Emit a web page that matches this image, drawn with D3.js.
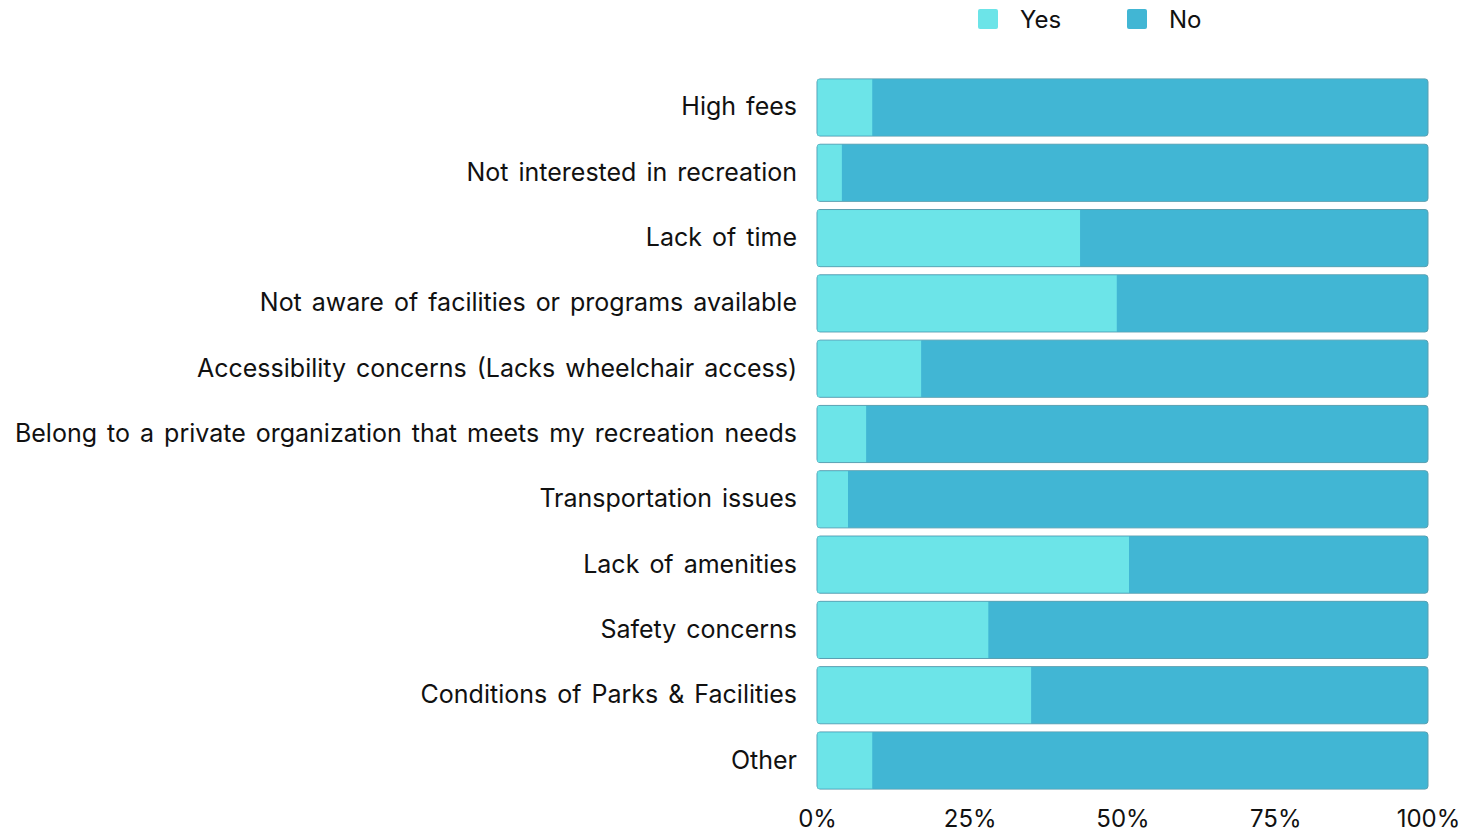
<!DOCTYPE html>
<html><head><meta charset="utf-8">
<script src="https://cdn.jsdelivr.net/npm/d3@7"></script>
<style>body{margin:0;background:#fff;} text{font-family:Inter,"DejaVu Sans",sans-serif;fill:#111;}</style>
</head><body><svg id="c" width="1479" height="832"></svg>
<script>
const categories = ["High fees","Not interested in recreation","Lack of time","Not aware of facilities or programs available","Accessibility concerns (Lacks wheelchair access)","Belong to a private organization that meets my recreation needs","Transportation issues","Lack of amenities","Safety concerns","Conditions of Parks & Facilities","Other"];
const yesValues = [9,4,43,49,17,8,5,51,28,35,9];
const noValues = yesValues.map(v => 100 - v);
const seriesNames = ["Yes","No"];
const tickValues = [0,25,50,75,100];
const colors = {Yes:"#6ce4e8", No:"#41b6d4"};

const svg = d3.select("#c");
const x = d3.scaleLinear().domain([0,100]).range([817,1428]);
const y = d3.scaleBand().domain(categories).range([75,793]).paddingInner(0.125).paddingOuter(0.06);

const rows = categories.map((c,i)=>({cat:c, Yes:yesValues[i], No:noValues[i]}));
const stack = d3.stack().keys(seriesNames)(rows);

svg.append("g").selectAll("rect").data(rows).join("rect")
  .attr("x", x(0)).attr("y", d=>y(d.cat)).attr("width", x(100)-x(0)).attr("height", y.bandwidth())
  .attr("rx",3).attr("fill", colors.No).attr("stroke","#5a9fb0").attr("stroke-width",1);

stack.forEach(s=>{
  svg.append("g").selectAll("rect").data(s).join("rect")
    .attr("x", d=>x(d[0])+0.5).attr("y", d=>y(d.data.cat)+0.5)
    .attr("width", d=>Math.max(0, x(d[1])-x(d[0]) - (s.key==="No"?3:0)))
    .attr("height", y.bandwidth()-1)
    .attr("fill", colors[s.key]);
});

const yAxis = d3.axisLeft(y).tickSize(0).tickPadding(20);
const ya = svg.append("g").attr("transform",`translate(${x(0)},0)`).call(yAxis);
ya.select(".domain").remove();
ya.selectAll("text").style("font-size","25px").style("word-spacing","3px").style("font-family","Inter, sans-serif").attr("fill","#111");

const xAxis = d3.axisBottom(x).tickValues(tickValues).tickFormat(d=>d+"%").tickSize(0).tickPadding(0);
const xa = svg.append("g").attr("transform",`translate(0,810)`).call(xAxis);
xa.select(".domain").remove();
xa.selectAll("text").style("font-size","24px").style("font-family","Inter, sans-serif").attr("fill","#111").attr("dy","0.71em");

const leg = svg.append("g");
const legX = [978,1127];
seriesNames.forEach((n,i)=>{
  leg.append("rect").attr("x",legX[i]).attr("y",9).attr("width",20).attr("height",20).attr("rx",2).attr("fill",colors[n]);
  leg.append("text").attr("x",legX[i]+42).attr("y",20).attr("dy","0.35em").style("font-size","24px").text(n);
});
</script></body></html>
